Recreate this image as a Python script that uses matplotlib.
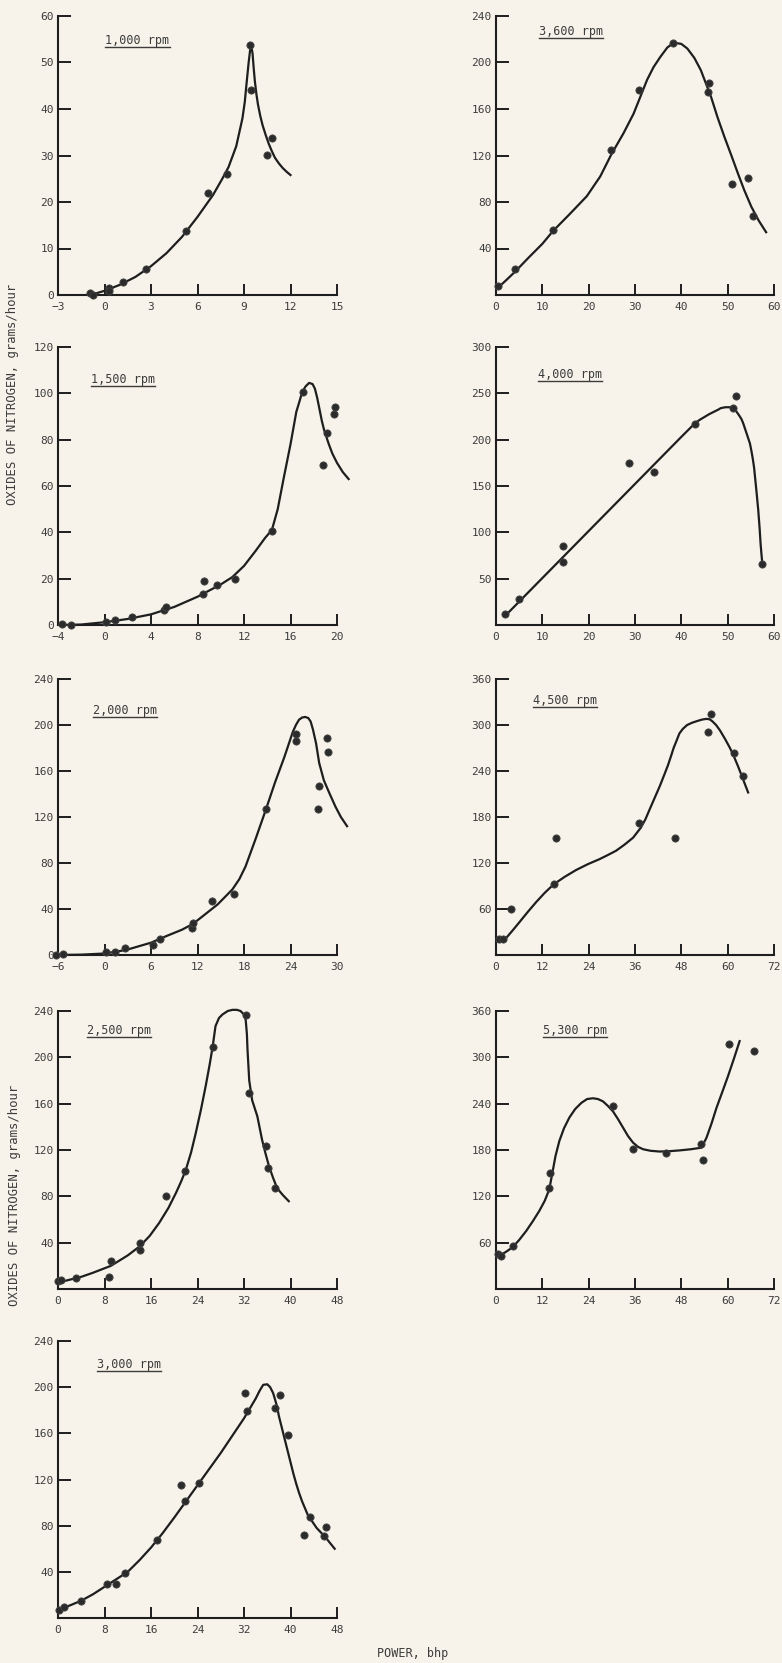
import matplotlib
matplotlib.use("Agg")
import matplotlib.pyplot as plt
from matplotlib.transforms import offset_copy

W, H = 782, 1663
BG = "#f7f3ea"
INK = "#1e1e1e"
TXT = "#3c3c3c"
FONT = "DejaVu Sans Mono"
plt.rcParams["font.family"] = [FONT, "DejaVu Sans"]

# ---- data ----
# 1,000 rpm
rpm1000_pts_x = [-0.96, -0.75, 0.32, 0.3, 1.17, 2.67, 5.29, 6.67, 7.91, 9.4, 9.45, 10.47, 10.83]
rpm1000_pts_y = [0.4, 0.0, 1.6, 0.9, 2.7, 5.6, 13.8, 22.0, 26.0, 53.8, 44.1, 30.2, 33.8]
rpm1000_fit_x = [-0.9, 0, 1, 2, 3, 4, 5, 6, 7, 7.6, 8, 8.5, 8.9, 9.05, 9.15, 9.3, 9.4, 9.47, 9.55, 9.62, 9.7, 9.8, 9.9, 10.05, 10.2, 10.4, 10.6, 10.8, 11.0, 11.25, 11.5, 11.75, 12.0]
rpm1000_fit_y = [0.0, 0.9, 2.2, 3.9, 6.2, 9.0, 12.5, 16.8, 21.5, 25, 27.5, 32, 38, 41.5, 45, 50, 52.8, 53.5, 52, 49, 46, 43.2, 41, 38.5, 36.5, 34.4, 32.5, 30.9, 29.5, 28.3, 27.3, 26.5, 25.8]

# 1,500 rpm
rpm1500_pts_x = [-3.67, -2.87, 0.14, 0.92, 2.4, 5.16, 5.27, 8.5, 8.6, 9.66, 11.2, 14.4, 17.1, 19.1, 18.8, 19.7, 19.8]
rpm1500_pts_y = [0.4, 0.0, 1.4, 2.2, 3.6, 6.5, 7.9, 13.3, 19.0, 17.3, 19.9, 40.6, 100.4, 82.9, 69.2, 91.1, 94.0]
rpm1500_fit_x = [-3.8, -2, 0, 2, 4, 6, 8, 10, 11, 12, 13, 13.8, 14.4, 14.9, 15.4, 16, 16.5, 16.8, 17, 17.3, 17.6, 17.9, 18.1, 18.3, 18.5, 18.7, 18.9, 19.3, 19.6, 20, 20.5, 21]
rpm1500_fit_y = [0.0, 0.2, 1.2, 2.6, 4.6, 7.8, 12.2, 17.5, 20.7, 25.5, 32, 37.5, 41, 50, 63, 78, 92, 97, 100.5, 103, 104.5, 104, 102, 98, 93, 88, 84, 78, 74, 70, 66, 63]

# 2,000 rpm
rpm2000_pts_x = [-6.2, -5.4, 0.13, 1.3, 2.7, 6.2, 7.1, 11.3, 11.4, 13.9, 16.7, 20.8, 24.7, 24.7, 28.7, 28.8, 27.7, 27.6]
rpm2000_pts_y = [0.0, 0.6, 2.9, 2.9, 6.4, 8.7, 13.6, 23.2, 27.6, 47.0, 52.8, 126.8, 192.1, 185.7, 188.6, 176.1, 147.1, 127.1]
rpm2000_fit_x = [-6.2, -3, 0, 2.8, 6, 8, 10, 11.4, 13.1, 14.6, 16.5, 17.4, 18.2, 19.5, 20.8, 22, 23.2, 24.3, 24.7, 25.1, 25.5, 25.9, 26.3, 26.6, 26.9, 27.3, 27.7, 28.3, 29, 29.8, 30.5, 31.3]
rpm2000_fit_y = [0.0, 0.3, 1.3, 4.4, 10.7, 16.5, 22, 27, 36, 44, 57, 66, 77, 101, 126, 150, 172, 194, 200, 204.6, 206.5, 207, 206, 203, 196, 184, 167, 152, 141, 129, 120, 112]

# 2,500 rpm
rpm2500_pts_x = [0.0, 0.57, 3.1, 9.1, 8.7, 14.1, 14.1, 18.5, 21.8, 26.6, 32.3, 32.9, 35.8, 36.2, 37.4]
rpm2500_pts_y = [6.9, 7.5, 9.8, 24.0, 10.6, 39.9, 34.1, 80.6, 101.6, 208.6, 236.4, 169.0, 123.1, 104.4, 87.2]
rpm2500_fit_x = [0, 2, 4, 6, 9.1, 12, 14.1, 15.8, 17.4, 19, 20.3, 21.2, 22, 22.9, 23.7, 24.6, 25.4, 26.1, 26.6, 27.1, 27.7, 28.3, 29.2, 30, 30.8, 31.4, 32, 32.3, 32.5, 32.6, 32.9, 33.4, 34.3, 35.1, 35.7, 36.3, 37, 37.7, 38.7, 39.7]
rpm2500_fit_y = [5.5, 8, 10.5, 14, 20, 29, 37, 46, 57, 70, 83, 93, 103, 118, 134.6, 155, 175, 194, 209, 227, 234, 237, 240, 241, 241, 240, 237, 232, 220, 207, 180, 163, 149, 129, 117, 106, 96, 87, 81, 75.8]

# 3,000 rpm
rpm3000_pts_x = [0.17, 1.1, 3.9, 8.5, 9.97, 11.6, 17.0, 21.1, 21.8, 24.2, 32.2, 32.5, 37.3, 38.2, 39.6, 42.3, 43.4, 45.8, 46.1]
rpm3000_pts_y = [7.2, 9.2, 14.9, 29.8, 29.8, 38.7, 67.3, 115.2, 101.7, 116.6, 194.6, 179.2, 182.0, 193.4, 158.7, 71.6, 87.4, 70.8, 78.5]
rpm3000_fit_x = [0, 2, 4, 6, 8, 10, 12, 14, 16, 18, 20, 22, 24, 26, 28, 30, 32, 33, 34, 34.7, 35.3, 36, 36.5, 37, 37.3, 37.7, 38, 38.5, 39, 39.5, 40, 40.5, 41, 41.5, 42, 43, 44.5, 46, 47.6]
rpm3000_fit_y = [7, 10.8, 15, 20.5, 27, 33.5, 40, 50, 61, 73.5, 87, 101, 115, 129, 143, 158, 173, 181.5, 190, 197, 202, 202.5, 200, 195, 190, 183, 175, 165, 155, 145, 135, 125, 116, 108, 101, 89, 78, 70, 60]

# 3,600 rpm
rpm3600_pts_x = [0.5, 4.1, 12.3, 24.9, 30.9, 38.3, 45.9, 45.7, 50.9, 54.3, 55.4]
rpm3600_pts_y = [7.7, 22.1, 55.9, 124.7, 176.3, 217.0, 182.0, 175.0, 95.2, 101.0, 68.2]
rpm3600_fit_x = [0.5, 2, 4.1, 7, 10, 12.3, 16, 19.6, 22.5, 24.9, 27.5, 29.7, 31.2, 32.6, 34, 35.5, 37, 38.4, 40, 41.3, 42.8, 44.2, 45.4, 46.4, 47.8, 49.3, 50.8, 52.2, 53.6, 55.1, 56.7, 58.3]
rpm3600_fit_y = [6.6, 12, 20, 32, 44, 55, 70, 85, 102, 121, 139, 156, 171, 185, 196, 205, 213, 217, 216, 212, 204, 193.5, 181, 170.6, 153, 136, 120, 104.7, 90, 76, 64, 54]

# 4,000 rpm
rpm4000_pts_x = [2.0, 5.0, 14.4, 14.4, 28.8, 34.2, 42.9, 51.2, 51.8, 57.5]
rpm4000_pts_y = [11.9, 27.7, 85.5, 67.6, 175.3, 164.6, 217.4, 234.3, 247.2, 65.4]
rpm4000_fit_x = [2.0, 40, 43, 44, 45, 46, 47, 48, 48.5, 49.5, 50.5, 51.2, 51.8, 52.5, 53, 53.4, 53.8, 54.2, 54.5, 54.8, 55.1, 55.4, 55.7, 55.9, 56.2, 56.6, 56.9, 57.1, 57.3, 57.5]
rpm4000_fit_y = [10, 203, 218, 221.5, 224.5, 227.5, 230, 232.5, 234, 235, 235, 233.5, 231, 226, 222, 217, 211, 205, 200.5, 196, 188.5, 180, 170, 160, 145, 124, 104, 88, 76, 65]

# 4,500 rpm
rpm4500_pts_x = [0.87, 1.7, 3.9, 15.6, 14.9, 37.0, 46.3, 54.8, 55.6, 61.7, 64.0]
rpm4500_pts_y = [21, 21, 60, 152, 92, 172.5, 153, 291, 314, 264, 233]
rpm4500_fit_x = [0.87, 2.6, 4.3, 6.1, 8.2, 10.4, 12.6, 14.9, 17.8, 20.8, 23.8, 26.8, 29, 31.1, 33.3, 35.5, 37.5, 38.7, 39.8, 41.1, 42.4, 43.5, 44.5, 45.3, 46, 46.8, 47.5, 48.4, 49.5, 50.8, 52, 53.3, 54.5, 55.3, 56, 57, 58, 59.3, 60.6, 61.7, 62.7, 64, 65.3]
rpm4500_fit_y = [19, 22, 32, 43, 56, 69, 81, 92, 102, 111, 118.5, 125, 130.5, 136, 144, 153, 166, 177, 190, 205, 220, 234, 247, 259, 270, 280, 289, 295, 300, 303, 305, 307, 308, 307.5, 305, 300, 293, 282, 270, 258, 246, 229, 212]

# 5,300 rpm
rpm5300_pts_x = [0.6, 1.3, 4.3, 14.1, 13.8, 30.3, 35.5, 44.1, 53.2, 53.6, 60.4, 66.8]
rpm5300_pts_y = [44.9, 42.7, 55.7, 150.6, 130.3, 237.0, 180.8, 175.7, 188.0, 166.6, 317.7, 308.2]
rpm5300_fit_x = [0.6, 2.4, 4.3, 6, 7.8, 9.5, 11.2, 12.6, 13.8, 14.7, 15.4, 16.4, 17.6, 19, 20.5, 22.1, 23.6, 25.1, 26.4, 27.7, 29, 30.3, 31.6, 32.9, 34.2, 35.5, 36.8, 38.1, 40, 42.4, 45, 47.6, 50.5, 53.2, 54.5, 55.8, 57.1, 58.6, 60.1, 61.6, 63.1]
rpm5300_fit_y = [42.7, 47.5, 54, 63.5, 75, 87.5, 101, 114, 129, 153, 172, 191.6, 208, 222, 233, 241, 246, 247, 246, 243, 237, 230, 220, 209, 198, 189.5, 184, 181, 179, 178, 178.5, 179.5, 181, 183, 195.7, 214, 234.5, 255, 275.8, 298, 321]

# axis ticks per panel
rpm1000_xticks = [-3, 0, 3, 6, 9, 12, 15]
rpm1000_yticks = [0, 10, 20, 30, 40, 50, 60]
rpm1500_xticks = [-4, 0, 4, 8, 12, 16, 20]
rpm1500_yticks = [0, 20, 40, 60, 80, 100, 120]
rpm2000_xticks = [-6, 0, 6, 12, 18, 24, 30]
rpm2000_yticks = [0, 40, 80, 120, 160, 200, 240]
rpm2500_xticks = [0, 8, 16, 24, 32, 40, 48]
rpm2500_yticks = [40, 80, 120, 160, 200, 240]
rpm3000_xticks = [0, 8, 16, 24, 32, 40, 48]
rpm3000_yticks = [40, 80, 120, 160, 200, 240]
rpm3600_xticks = [0, 10, 20, 30, 40, 50, 60]
rpm3600_yticks = [40, 80, 120, 160, 200, 240]
rpm4000_xticks = [0, 10, 20, 30, 40, 50, 60]
rpm4000_yticks = [50, 100, 150, 200, 250, 300]
rpm4500_xticks = [0, 12, 24, 36, 48, 60, 72]
rpm4500_yticks = [60, 120, 180, 240, 300, 360]
rpm5300_xticks = [0, 12, 24, 36, 48, 60, 72]
rpm5300_yticks = [60, 120, 180, 240, 300, 360]

panel_titles = ["1,000 rpm", "1,500 rpm", "2,000 rpm", "2,500 rpm", "3,000 rpm",
                "3,600 rpm", "4,000 rpm", "4,500 rpm", "5,300 rpm"]


def px_rect(x0, top, x1, bottom):
    return [x0 / W, 1 - bottom / H, (x1 - x0) / W, (bottom - top) / H]


def panel(fig, rect, pts_x, pts_y, fit_x, fit_y, xticks, yticks, title, lab_x, lab_y):
    ax = fig.add_axes(rect)
    ax.set_facecolor("none")
    ax.set_xlim(xticks[0], xticks[-1])
    ax.set_ylim(0, yticks[-1])
    ax.set_xticks(xticks)
    ax.set_yticks(yticks)
    for s in ["top", "right"]:
        ax.spines[s].set_visible(False)
    for s in ["left", "bottom"]:
        ax.spines[s].set_linewidth(1.5)
        ax.spines[s].set_color(INK)
    ax.tick_params(axis="both", direction="in", width=1.4, color=INK,
                   labelsize=8, labelcolor=TXT)
    ax.tick_params(axis="x", length=8, pad=5)
    ax.tick_params(axis="y", length=9, pad=3)

    ax.plot(fit_x, fit_y, color=INK, lw=1.6, clip_on=False, zorder=3,
            solid_joinstyle="round")
    ax.plot(pts_x, pts_y, "o", color="#2b2b2b", ms=5.2, mec="#444444", mew=0.6,
            clip_on=False, zorder=4)

    tr = offset_copy(ax.transAxes, fig=fig, y=3, units="dots")
    t = ax.text(lab_x, lab_y, title, transform=tr, fontsize=8.5,
                color=TXT, va="baseline", ha="left")
    fig.canvas.draw()
    bb = t.get_window_extent()
    inv = ax.transAxes.inverted()
    (u0, _), (u1, _) = inv.transform([(bb.x0, bb.y0), (bb.x1, bb.y0)])
    ax.plot([u0, u1], [lab_y, lab_y], transform=ax.transAxes, color=TXT, lw=1.0,
            clip_on=False)
    return ax


def main():
    fig = plt.figure(figsize=(W / 100, H / 100), dpi=100, facecolor=BG)

    LX = (58, 337)
    RX = (496, 774)
    rows = [(16, 295), (347, 625), (679, 955), (1011, 1289), (1341, 1618)]

    panel(fig, px_rect(LX[0], rows[0][0], LX[1], rows[0][1]),
          rpm1000_pts_x, rpm1000_pts_y, rpm1000_fit_x, rpm1000_fit_y,
          rpm1000_xticks, rpm1000_yticks, panel_titles[0], 0.17, 0.89)
    panel(fig, px_rect(LX[0], rows[1][0], LX[1], rows[1][1]),
          rpm1500_pts_x, rpm1500_pts_y, rpm1500_fit_x, rpm1500_fit_y,
          rpm1500_xticks, rpm1500_yticks, panel_titles[1], 0.118, 0.86)
    panel(fig, px_rect(LX[0], rows[2][0], LX[1], rows[2][1]),
          rpm2000_pts_x, rpm2000_pts_y, rpm2000_fit_x, rpm2000_fit_y,
          rpm2000_xticks, rpm2000_yticks, panel_titles[2], 0.125, 0.862)
    panel(fig, px_rect(LX[0], rows[3][0], LX[1], rows[3][1]),
          rpm2500_pts_x, rpm2500_pts_y, rpm2500_fit_x, rpm2500_fit_y,
          rpm2500_xticks, rpm2500_yticks, panel_titles[3], 0.104, 0.906)
    panel(fig, px_rect(LX[0], rows[4][0], LX[1], rows[4][1]),
          rpm3000_pts_x, rpm3000_pts_y, rpm3000_fit_x, rpm3000_fit_y,
          rpm3000_xticks, rpm3000_yticks, panel_titles[4], 0.14, 0.89)

    panel(fig, px_rect(RX[0], rows[0][0], RX[1], rows[0][1]),
          rpm3600_pts_x, rpm3600_pts_y, rpm3600_fit_x, rpm3600_fit_y,
          rpm3600_xticks, rpm3600_yticks, panel_titles[5], 0.155, 0.92)
    panel(fig, px_rect(RX[0], rows[1][0], RX[1], rows[1][1]),
          rpm4000_pts_x, rpm4000_pts_y, rpm4000_fit_x, rpm4000_fit_y,
          rpm4000_xticks, rpm4000_yticks, panel_titles[6], 0.15, 0.878)
    panel(fig, px_rect(RX[0], rows[2][0], RX[1], rows[2][1]),
          rpm4500_pts_x, rpm4500_pts_y, rpm4500_fit_x, rpm4500_fit_y,
          rpm4500_xticks, rpm4500_yticks, panel_titles[7], 0.133, 0.90)
    panel(fig, px_rect(RX[0], rows[3][0], RX[1], rows[3][1]),
          rpm5300_pts_x, rpm5300_pts_y, rpm5300_fit_x, rpm5300_fit_y,
          rpm5300_xticks, rpm5300_yticks, panel_titles[8], 0.169, 0.906)

    ylab = "OXIDES OF NITROGEN, grams/hour"
    fig.text(13 / W, 1 - 394 / H, ylab, rotation=90, ha="center", va="center",
             fontsize=8.8, color=TXT)
    fig.text(15 / W, 1 - 1195 / H, ylab, rotation=90, ha="center", va="center",
             fontsize=8.8, color=TXT)
    fig.text(413 / W, 1 - 1654 / H, "POWER, bhp", ha="center", va="center",
             fontsize=8.5, color=TXT)

    fig.savefig("out.png", dpi=100, facecolor=BG)


if __name__ == "__main__":
    main()
